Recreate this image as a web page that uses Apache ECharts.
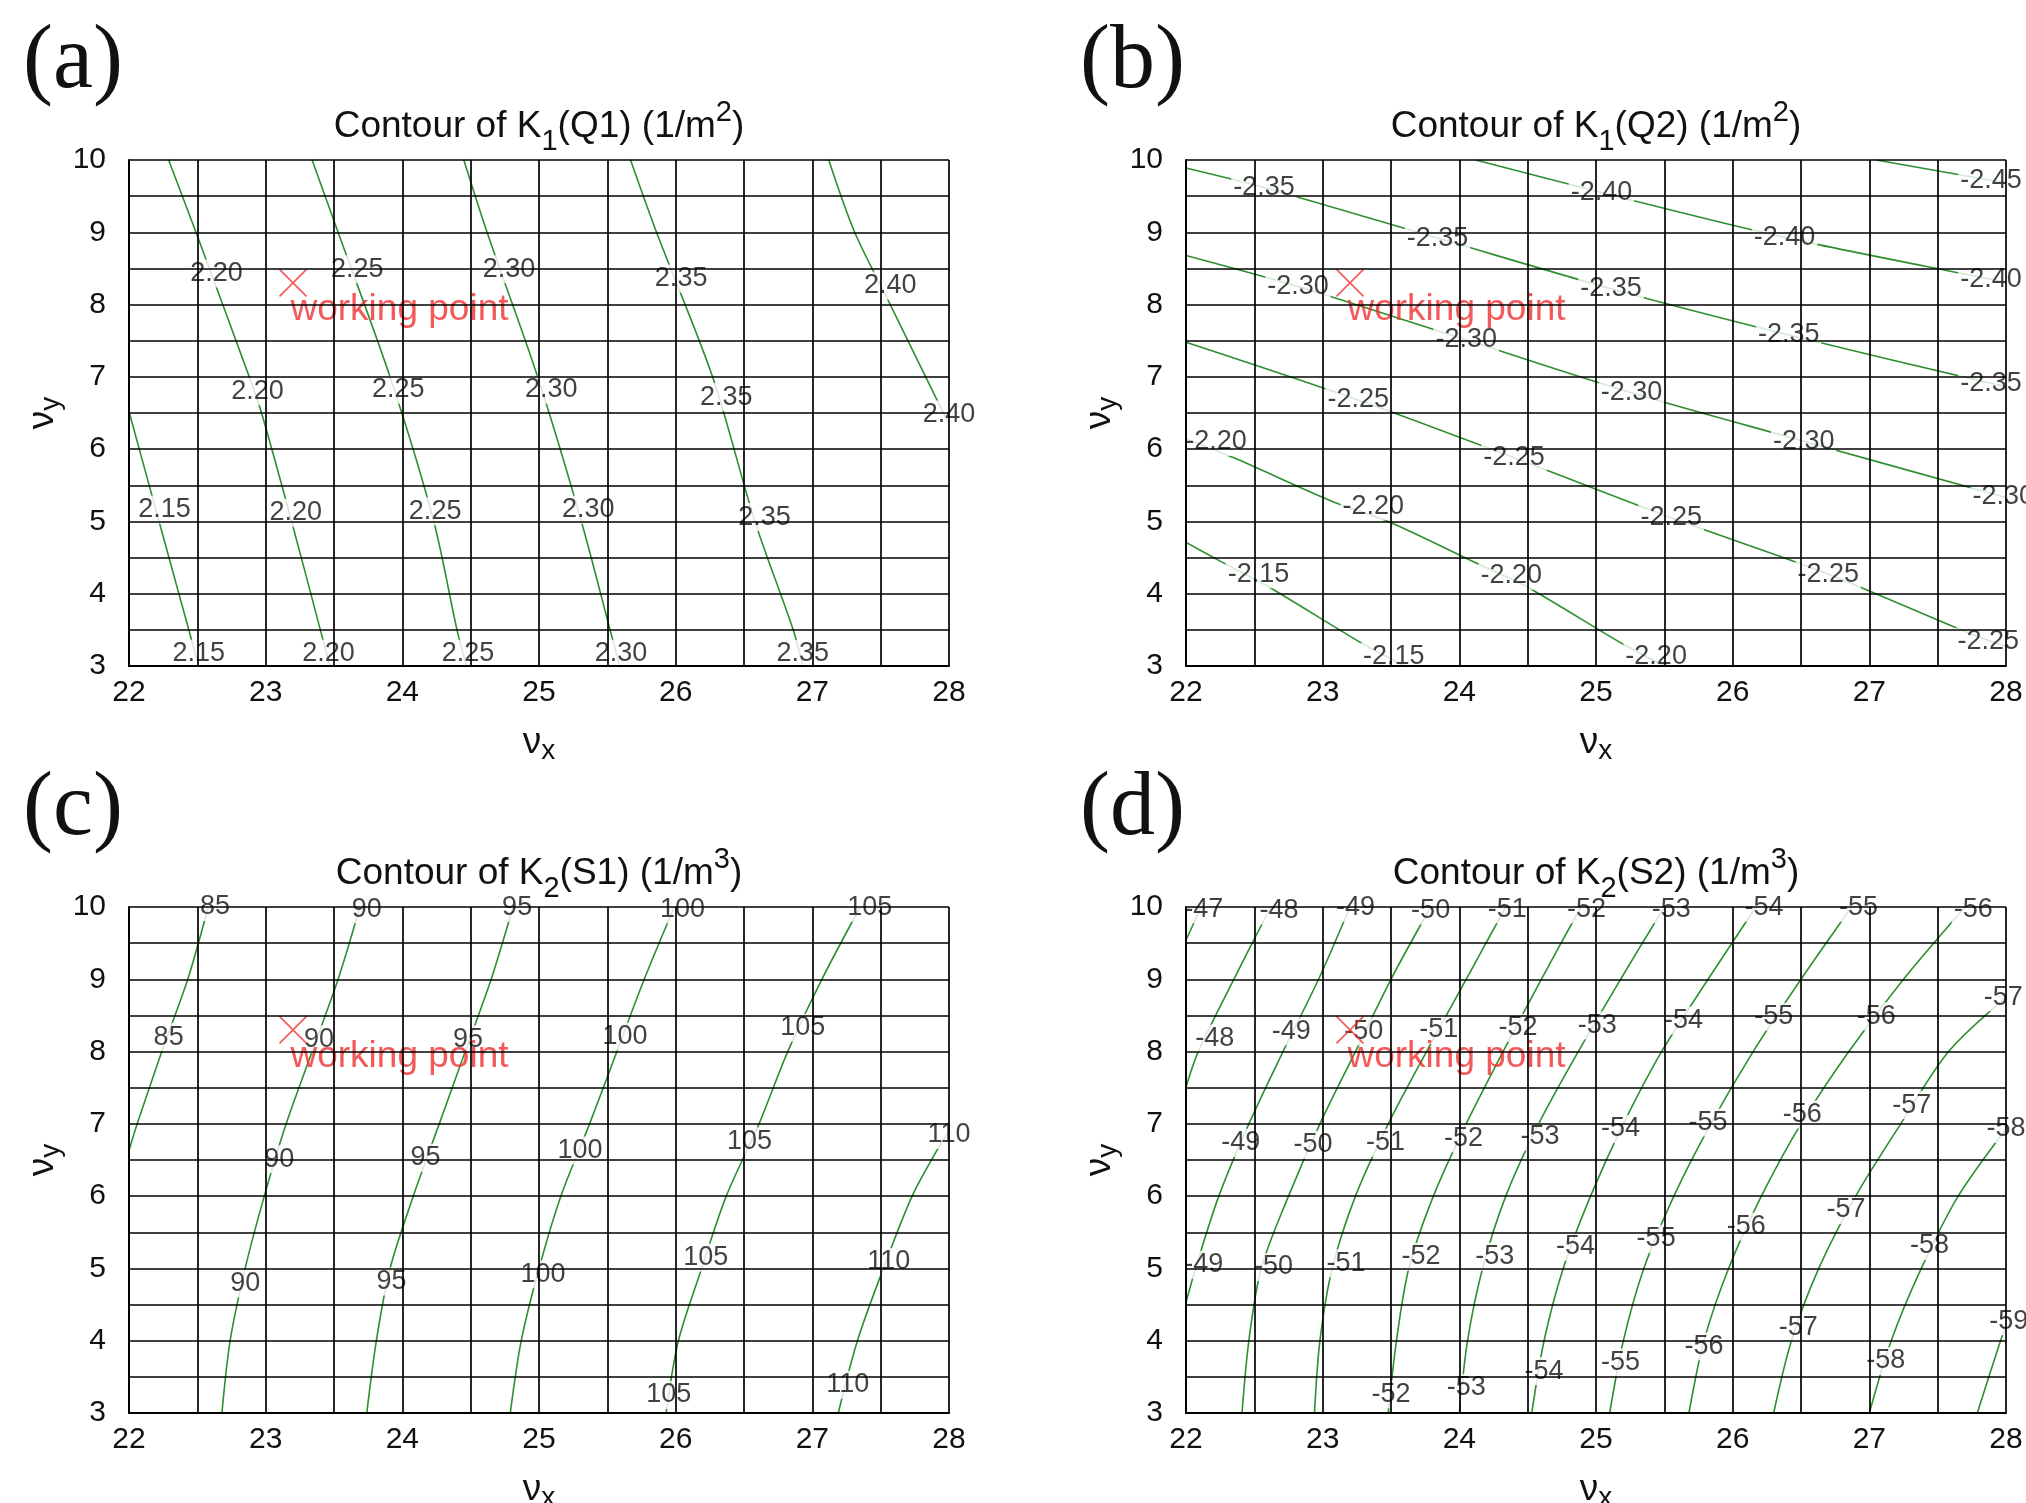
<!DOCTYPE html>
<html>
<head>
<meta charset="utf-8">
<script src="https://cdn.jsdelivr.net/npm/echarts@6/dist/echarts.min.js"></script>
<style>
html, body { margin: 0; padding: 0; background: #fff; }
#main { width: 2026px; height: 1503px; }
</style>
</head>
<body>
<div id="main"></div>
<script>
// axes
var vxMin = 22, vxMax = 28;
var vyMin = 3, vyMax = 10;
var workingPoint = [23.2, 8.3];

// (a) K1(Q1): one polyline per level, labels as [text, vx, vy]
var linesA = [
    [[22.0, 6.52], [22.22, 5.0], [22.51, 3.0]],
    [[22.29, 10], [22.49, 9], [22.88, 7], [22.97, 6.5], [23.19, 5], [23.4, 3.5], [23.47, 3]],
    [[23.34, 10], [23.53, 9], [23.91, 7], [24.23, 5], [24.4, 3.5], [24.47, 3]],
    [[24.45, 10], [24.62, 9], [24.99, 7], [25.31, 5], [25.52, 3.5], [25.59, 3]],
    [[25.67, 10], [25.86, 9], [26.27, 7], [26.58, 5], [26.86, 3.5], [26.93, 3]],
    [[27.12, 10], [27.31, 9], [27.57, 8], [27.92, 6.65], [28.0, 6.35]]
];
var labelsA = [
    ['2.20', 22.64, 8.43], ['2.25', 23.67, 8.49], ['2.30', 24.78, 8.49], ['2.35', 26.04, 8.36], ['2.40', 27.57, 8.26],
    ['2.20', 22.94, 6.8], ['2.25', 23.97, 6.82], ['2.30', 25.09, 6.82], ['2.35', 26.37, 6.72], ['2.40', 28.0, 6.48],
    ['2.15', 22.26, 5.16], ['2.20', 23.22, 5.12], ['2.25', 24.24, 5.14], ['2.30', 25.36, 5.16], ['2.35', 26.65, 5.06],
    ['2.15', 22.51, 3.17], ['2.20', 23.46, 3.17], ['2.25', 24.48, 3.17], ['2.30', 25.6, 3.17], ['2.35', 26.93, 3.17]
];

// (b) K1(Q2)
var linesB = [
    [[27.05, 10], [27.89, 9.72], [28, 9.69]],
    [[24.12, 10], [25.04, 9.55], [26.38, 8.93], [27.89, 8.35], [28, 8.31]],
    [[22, 9.89], [22.57, 9.62], [23.84, 8.92], [25.11, 8.22], [26.41, 7.58], [27.89, 6.91], [28, 6.87]],
    [[22, 8.68], [22.82, 8.25], [24.05, 7.51], [25.26, 6.78], [26.52, 6.11], [28, 5.33]],
    [[22, 7.48], [23.26, 6.68], [24.4, 5.88], [25.55, 5.05], [26.7, 4.27], [27.71, 3.47], [28, 3.27]],
    [[22, 6.14], [22.35, 5.88], [23.08, 5.27], [23.48, 5.0], [24.14, 4.41], [24.49, 4.1], [25.2, 3.3], [25.5, 3.0]],
    [[22, 4.71], [22.26, 4.44], [22.6, 4.1], [23.3, 3.3], [23.6, 3.0]]
];
var labelsB = [
    ['-2.35', 22.57, 9.62], ['-2.35', 23.84, 8.92], ['-2.35', 25.11, 8.22], ['-2.35', 26.41, 7.58], ['-2.35', 27.89, 6.91],
    ['-2.40', 25.04, 9.55], ['-2.40', 26.38, 8.93], ['-2.40', 27.89, 8.35], ['-2.45', 27.89, 9.72],
    ['-2.30', 22.82, 8.25], ['-2.30', 24.05, 7.51], ['-2.30', 25.26, 6.78], ['-2.30', 26.52, 6.11], ['-2.30', 27.98, 5.34],
    ['-2.25', 23.26, 6.68], ['-2.25', 24.4, 5.88], ['-2.25', 25.55, 5.05], ['-2.25', 26.7, 4.27], ['-2.25', 27.87, 3.34],
    ['-2.20', 22.22, 6.1], ['-2.20', 23.37, 5.21], ['-2.20', 24.38, 4.25], ['-2.20', 25.44, 3.13],
    ['-2.15', 22.53, 4.27], ['-2.15', 23.52, 3.13]
];

// (c) K2(S1)
var linesC = [
    [[22, 6.63], [22.06, 7], [22.24, 8], [22.43, 9], [22.58, 10]],
    [[22.68, 3], [22.74, 4], [22.85, 5], [22.99, 6], [23.15, 7], [23.34, 8], [23.53, 9], [23.69, 10]],
    [[23.74, 3], [23.81, 4], [23.91, 5], [24.08, 6], [24.27, 7], [24.46, 8], [24.65, 9], [24.81, 10]],
    [[24.79, 3], [24.87, 4], [25.0, 5], [25.16, 6], [25.37, 7], [25.57, 8], [25.77, 9], [25.99, 10]],
    [[25.93, 3], [26.02, 4], [26.19, 5], [26.37, 6], [26.61, 7], [26.82, 8], [27.07, 9], [27.35, 10]],
    [[27.19, 3], [27.33, 4], [27.52, 5], [27.73, 6], [27.92, 6.66], [28, 6.9]]
];
var labelsC = [
    ['85', 22.29, 8.2], ['85', 22.63, 10.0],
    ['90', 22.85, 4.79], ['90', 23.1, 6.51], ['90', 23.39, 8.17], ['90', 23.74, 9.97],
    ['95', 23.92, 4.82], ['95', 24.17, 6.53], ['95', 24.48, 8.17], ['95', 24.84, 9.99],
    ['100', 25.03, 4.92], ['100', 25.3, 6.63], ['100', 25.63, 8.21], ['100', 26.05, 9.97],
    ['105', 25.95, 3.25], ['105', 26.22, 5.15], ['105', 26.54, 6.76], ['105', 26.93, 8.33], ['105', 27.42, 9.99],
    ['110', 27.26, 3.39], ['110', 27.56, 5.09], ['110', 28.0, 6.85]
];

// (d) K2(S2)
var linesD = [
    [[22, 9.54], [22.11, 10]],
    [[22, 7.51], [22.09, 8], [22.35, 9], [22.62, 10]],
    [[22, 4.53], [22.07, 5], [22.24, 6], [22.46, 7], [22.71, 8], [22.97, 9], [23.2, 10]],
    [[22.41, 3], [22.46, 4], [22.55, 5], [22.75, 6], [22.98, 7], [23.24, 8], [23.5, 9], [23.79, 10]],
    [[22.94, 3], [22.98, 4], [23.07, 5], [23.24, 6], [23.48, 7], [23.76, 8], [24.05, 9], [24.34, 10]],
    [[23.48, 3], [23.54, 4], [23.63, 5], [23.81, 6], [24.05, 7], [24.32, 8], [24.6, 9], [24.89, 10]],
    [[24.0, 3], [24.06, 4], [24.17, 5], [24.34, 6], [24.58, 7], [24.87, 8], [25.18, 9], [25.5, 10]],
    [[24.53, 3], [24.62, 4], [24.76, 5], [24.96, 6], [25.2, 7], [25.48, 8], [25.82, 9], [26.17, 10]],
    [[25.1, 3], [25.2, 4], [25.35, 5], [25.57, 6], [25.84, 7], [26.15, 8], [26.5, 9], [26.87, 10]],
    [[25.68, 3], [25.79, 4], [25.97, 5], [26.21, 6], [26.5, 7], [26.85, 8], [27.25, 9], [27.7, 10]],
    [[26.3, 3], [26.43, 4], [26.63, 5], [26.9, 6], [27.23, 7], [27.58, 8], [28, 8.75]],
    [[27.0, 3], [27.16, 4], [27.38, 5], [27.65, 6], [28, 6.93]],
    [[27.79, 3], [27.96, 4], [28, 4.2]]
];
var labelsD = [
    ['-47', 22.13, 9.97], ['-48', 22.68, 9.95], ['-49', 23.24, 9.99], ['-50', 23.79, 9.95], ['-51', 24.35, 9.97],
    ['-52', 24.93, 9.97], ['-53', 25.55, 9.97], ['-54', 26.23, 9.99], ['-55', 26.92, 9.99], ['-56', 27.76, 9.97],
    ['-48', 22.21, 8.18], ['-49', 22.77, 8.28], ['-50', 23.3, 8.28], ['-51', 23.85, 8.3], ['-52', 24.43, 8.33],
    ['-53', 25.01, 8.36], ['-54', 25.64, 8.43], ['-55', 26.3, 8.48], ['-56', 27.05, 8.49], ['-57', 27.98, 8.75],
    ['-49', 22.4, 6.74], ['-50', 22.93, 6.71], ['-51', 23.46, 6.74], ['-52', 24.03, 6.8], ['-53', 24.59, 6.82],
    ['-54', 25.18, 6.93], ['-55', 25.82, 7.02], ['-56', 26.51, 7.13], ['-57', 27.31, 7.26], ['-58', 28.0, 6.93],
    ['-49', 22.13, 5.05], ['-50', 22.64, 5.02], ['-51', 23.17, 5.07], ['-52', 23.72, 5.16], ['-53', 24.26, 5.16],
    ['-54', 24.85, 5.3], ['-55', 25.44, 5.41], ['-56', 26.1, 5.58], ['-57', 26.83, 5.81], ['-58', 27.44, 5.31],
    ['-52', 23.5, 3.26], ['-53', 24.05, 3.35], ['-54', 24.62, 3.58], ['-55', 25.18, 3.7], ['-56', 25.79, 3.92],
    ['-57', 26.48, 4.18], ['-58', 27.12, 3.72], ['-59', 28.02, 4.27]
];

var sans = 'Liberation Sans';
var ink = '#111';
var green = '#2e8f2e';
var red = '#f03030';

var panels = [
    { tag: '(a)', title: 'Contour of K{sub|1}(Q1) (1/m{sup|2})', lines: linesA, labels: labelsA, left: 129, top: 160 },
    { tag: '(b)', title: 'Contour of K{sub|1}(Q2) (1/m{sup|2})', lines: linesB, labels: labelsB, left: 1186, top: 160 },
    { tag: '(c)', title: 'Contour of K{sub|2}(S1) (1/m{sup|3})', lines: linesC, labels: labelsC, left: 129, top: 907 },
    { tag: '(d)', title: 'Contour of K{sub|2}(S2) (1/m{sup|3})', lines: linesD, labels: labelsD, left: 1186, top: 907 }
];
var plotW = 820, plotH = 506;

var gridLine = { show: true, lineStyle: { color: '#000', width: 1.7, type: 'solid' } };

var grids = [], xAxes = [], yAxes = [], titles = [], series = [];

panels.forEach(function (p, i) {
    grids.push({ left: p.left, top: p.top, width: plotW, height: plotH, containLabel: false, outerBoundsMode: 'none' });

    xAxes.push({
        type: 'value', gridIndex: i, min: vxMin, max: vxMax, interval: 1, z: 3,
        name: '{n|ν}{s|x}', nameLocation: 'middle', nameGap: 55,
        nameTextStyle: { rich: {
            n: { fontSize: 37, fontFamily: sans, color: ink },
            s: { fontSize: 28, fontFamily: sans, color: ink, padding: [16, 0, 0, 0] }
        } },
        axisLine: { show: true, lineStyle: { color: '#000', width: 2 } },
        axisTick: { show: false },
        minorTick: { show: false, splitNumber: 2 },
        splitLine: gridLine,
        minorSplitLine: gridLine,
        axisLabel: { fontSize: 30, fontFamily: sans, color: ink, margin: 12 }
    });
    yAxes.push({
        type: 'value', gridIndex: i, min: vyMin, max: vyMax, interval: 1, z: 3,
        name: '{n|ν}{s|y}', nameLocation: 'middle', nameGap: 64,
        nameTextStyle: { rich: {
            n: { fontSize: 37, fontFamily: sans, color: ink },
            s: { fontSize: 28, fontFamily: sans, color: ink, padding: [16, 0, 0, 0] }
        } },
        axisLine: { show: true, lineStyle: { color: '#000', width: 2 } },
        axisTick: { show: false },
        minorTick: { show: false, splitNumber: 2 },
        splitLine: gridLine,
        minorSplitLine: gridLine,
        axisLabel: { fontSize: 30, fontFamily: sans, color: ink, margin: 23 }
    });

    titles.push({
        text: p.tag, left: p.left - 106, top: p.top - 142, padding: 0,
        textStyle: { fontFamily: 'Liberation Serif', fontSize: 90, fontWeight: 'normal', color: '#111' }
    });
    titles.push({
        text: p.title, left: p.left + plotW / 2, top: p.top - 63, textAlign: 'center', padding: 0,
        textStyle: {
            fontFamily: sans, fontSize: 37, fontWeight: 'normal', color: ink,
            rich: {
                sub: { fontFamily: sans, fontSize: 29, color: ink, padding: [30, 0, 0, 0] },
                sup: { fontFamily: sans, fontSize: 29, color: ink, padding: [0, 0, 28, 0] }
            }
        }
    });

    p.lines.forEach(function (pts) {
        series.push({
            type: 'line', xAxisIndex: i, yAxisIndex: i, data: pts,
            smooth: 0.3, symbol: 'none', z: 1, silent: true,
            lineStyle: { color: green, width: 1.6 }
        });
    });

    series.push({
        type: 'scatter', xAxisIndex: i, yAxisIndex: i, z: 2, clip: false, silent: true,
        symbolSize: 1, itemStyle: { color: 'rgba(0,0,0,0)' },
        data: p.labels.map(function (l) { return { name: l[0], value: [l[1], l[2]] }; }),
        label: {
            show: true, position: 'inside', formatter: '{b}',
            fontFamily: sans, fontSize: 27, color: ink, lineHeight: 28,
            backgroundColor: '#fff', padding: [0, 2]
        }
    });

    series.push({
        type: 'scatter', xAxisIndex: i, yAxisIndex: i, z: 2.5, silent: true,
        symbol: 'path://M0,0L10,10M10,0L0,10', symbolSize: 27,
        itemStyle: { color: 'none', borderColor: red, borderWidth: 1.6 },
        data: [workingPoint],
        label: {
            show: true, formatter: 'working point', position: [13.5, 43],
            align: 'left', verticalAlign: 'middle',
            fontFamily: sans, fontSize: 37, color: red
        }
    });
});

var chart = echarts.init(document.getElementById('main'));
chart.setOption({
    animation: false,
    backgroundColor: '#fff',
    title: titles,
    grid: grids,
    xAxis: xAxes,
    yAxis: yAxes,
    series: series
});
</script>
</body>
</html>
